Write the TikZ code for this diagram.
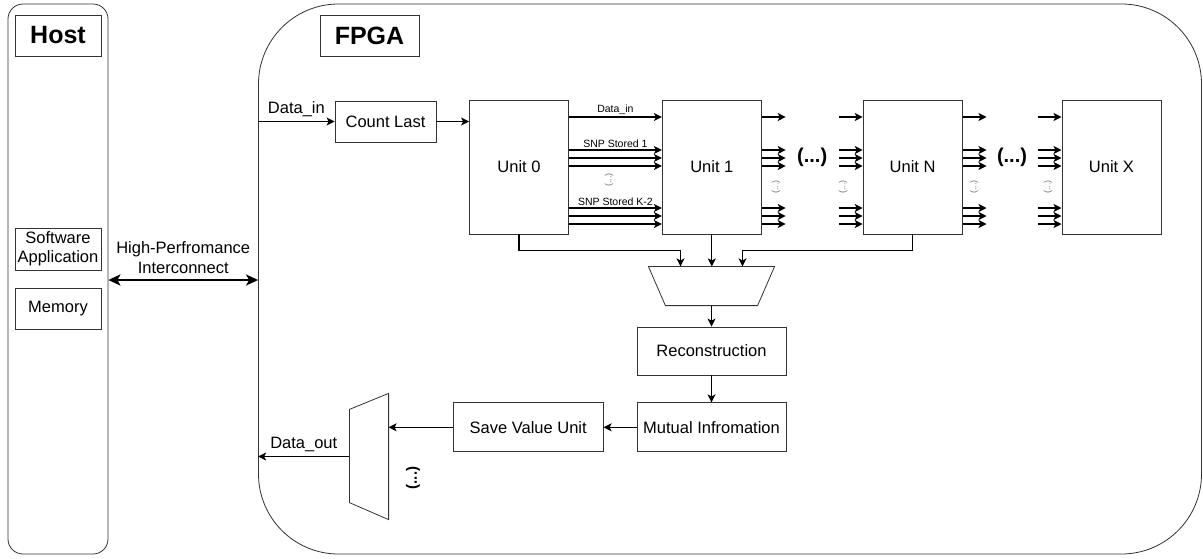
\documentclass[tikz,border=0pt]{standalone}
\usepackage{fontspec}
\setmainfont{Liberation Sans}
\usetikzlibrary{arrows.meta,calc,positioning}

\begin{document}
\begin{tikzpicture}[x=1pt,y=-1pt,>={Stealth[length=8pt,width=8pt,inset=2pt]},
                    line width=1.2pt,
                    every node/.style={font=\fontsize{16.5}{20}\selectfont,align=center},
                    outline/.style={draw=black!80,line width=0.8pt},
                    blk/.style={outline,inner sep=0pt,minimum width=#1,minimum height=41pt},
                    unit/.style={blk=99pt,minimum height=134pt},
                    title/.style={blk=86pt,font=\fontsize{25}{28}\selectfont\bfseries},
                    tiny/.style={font=\fontsize{10.5}{12}\selectfont,inner sep=2pt},
                    gap/.style={font=\fontsize{20}{22}\selectfont\bfseries},
                    vdots/.style={font=\fontsize{9}{10}\selectfont,rotate=90,text=black!55}]
  \useasboundingbox (0,0) rectangle (1203,558);

  % containers
  \node[outline,rounded corners=15pt,minimum width=100pt,minimum height=550pt] (host) at (58,279) {};
  \node[outline,rounded corners=80pt,minimum width=943pt,minimum height=550pt] (fpga) at (730,279) {};
  \node[title]         (hosttitle) at (58,35.5)  {Host};
  \node[title,blk=99pt] (fpgatitle) at (369.5,35.5) {FPGA};

  % host side
  \node[blk=86pt,minimum height=42pt] (sw)  at (58,249)   {Software\\[-1pt]Application};
  \node[blk=86pt]                     (mem) at (58,308.5) {Memory};

  \draw[<->,line width=2.4pt,>={Stealth[length=12pt,width=11pt,inset=3pt]}]
    (host.east |- 0,280) -- node[above=2pt] {High-Perfromance\\Interconnect} (fpga.west |- 0,280);

  % input side
  \node[blk=101pt]       (cl) at (385.5,121.5) {Count Last};
  \node[unit]            (u0) at (519,167)     {Unit 0};
  \node[unit,right=93pt of u0]  (u1) {Unit 1};
  \node[unit,right=101pt of u1] (uN) {Unit N};
  \node[unit,right=99pt of uN]  (uX) {Unit X};

  \draw[->] (fpga.west |- cl.west) -- node[above=1pt] {Data\_in} (cl.west);
  \draw[->] (cl.east) -- (cl.east -| u0.west);

  \draw[->] (u0.east |- 0,117) -- node[tiny,above] {Data\_in} (u1.west |- 0,117);
  \draw[->] (u0.east |- 0,150) -- node[tiny,above] {SNP Stored 1} (u1.west |- 0,150);
  \draw[->] (u0.east |- 0,208) -- node[tiny,above] {SNP Stored K-2} (u1.west |- 0,208);
  \foreach \y in {158,166,216,224}
    \draw[->] (u0.east |- 0,\y) -- (u1.west |- 0,\y);
  \node[vdots] at (609,180) {(...)};

  \foreach \y in {117,150,158,166,208,216,224} {
    \draw[->] (u1.east |- 0,\y) -- ++(24,0);
    \draw[->] ($(uN.west |- 0,\y)+(-24,0)$) -- (uN.west |- 0,\y);
    \draw[->] (uN.east |- 0,\y) -- ++(24,0);
    \draw[->] ($(uX.west |- 0,\y)+(-24,0)$) -- (uX.west |- 0,\y);
  }
  \node[gap] (gap1) at ($(u1.east)!0.5!(uN.west)+(0,-10)$) {(...)};
  \node[gap] (gap2) at ($(uN.east)!0.5!(uX.west)+(0,-10)$) {(...)};
  \node[vdots] at (776,187) {(...)};
  \node[vdots] at (843,187) {(...)};
  \node[vdots] at (974,187) {(...)};
  \node[vdots] at (1048,187) {(...)};

  % merge and output
  \node[minimum width=125pt,minimum height=38pt,inner sep=0pt] (mux) at (711.5,286) {};
  \draw[outline] (mux.north west) -- (mux.north east) -- ($(mux.south east)+(-17,0)$)
    -- ($(mux.south west)+(17,0)$) -- cycle;

  \draw[->] (u0.south) -- ++(0,16) -| ($(mux.north)+(-31,0)$);
  \draw[->] (u1.south) -- (u1.south |- mux.north);
  \draw[->] (uN.south) -- ++(0,16) -| ($(mux.north)+(31,0)$);

  \node[blk=149pt,minimum height=48pt,below=21pt of mux] (rec)  {Reconstruction};
  \node[blk=149pt,minimum height=49pt,below=27pt of rec] (mi)   {Mutual Infromation};
  \node[blk=150pt,minimum height=49pt,left=33pt of mi]   (save) {Save Value Unit};

  \node[minimum width=38pt,minimum height=125pt,inner sep=0pt] (mux2) at (369,456.5) {};
  \draw[outline] ($(mux2.north west)+(0,16)$) -- (mux2.north east) -- (mux2.south east)
    -- ($(mux2.south west)+(0,-17)$) -- cycle;
  \node[font=\fontsize{15}{17}\selectfont\bfseries,rotate=90] at (413,478) {(...)};

  \draw[->] (mux.south) -- (rec.north);
  \draw[->] (rec.south) -- (mi.north);
  \draw[->] (mi.west) -- (save.east);
  \draw[->] (save.west) -- (save.west -| mux2.east);
  \draw[->] (mux2.west) -- node[above=1pt] {Data\_out} (mux2.west -| fpga.west);

\end{tikzpicture}
\end{document}
